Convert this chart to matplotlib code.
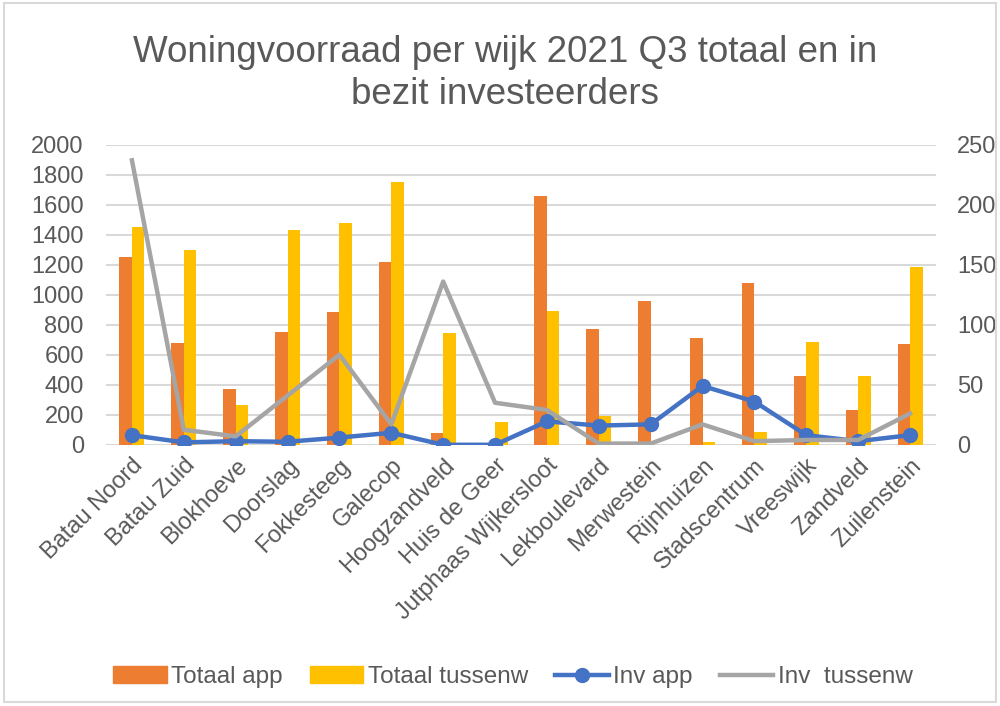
import numpy as np
import matplotlib
matplotlib.use('Agg')
import matplotlib.pyplot as plt
from matplotlib.lines import Line2D
from matplotlib.patches import Patch, Rectangle

wijken = ['Batau Noord', 'Batau Zuid', 'Blokhoeve', 'Doorslag', 'Fokkesteeg', 'Galecop',
          'Hoogzandveld', 'Huis de Geer', 'Jutphaas Wijkersloot', 'Lekboulevard',
          'Merwestein', 'Rijnhuizen', 'Stadscentrum', 'Vreeswijk', 'Zandveld', 'Zuilenstein']
totaal_app = [1250, 680, 370, 755, 885, 1220, 80, 0, 1660, 770, 960, 710, 1080, 460, 230, 670]
totaal_tussenw = [1450, 1295, 262, 1433, 1476, 1750, 745, 150, 895, 195, 0, 20, 82, 687, 456, 1187]
inv_app = [8, 2, 3, 2.5, 6, 10, 0, 0, 19.5, 16, 17, 49, 36, 8, 3, 8]
inv_tussenw = [237, 12.5, 7, 41, 75, 17, 136, 35, 29, 1, 1, 17, 3, 4, 4, 26]

grey = '#595959'
plt.rcParams['font.family'] = ['Liberation Sans', 'DejaVu Sans']

fig = plt.figure(figsize=(10, 7.06), dpi=100)
ax = fig.add_axes([0.106, 0.370, 0.830, 0.425])
ax2 = ax.twinx()

x = np.arange(len(wijken))
w = 0.24
ax.bar(x - w / 2, totaal_app, w, color='#ED7D31', zorder=2)
ax.bar(x + w / 2, totaal_tussenw, w, color='#FFC000', zorder=2)
ax.set_ylim(0, 2000)
ax.set_yticks(range(0, 2001, 200))
ax.set_xlim(-0.5, len(wijken) - 0.5)
ax.grid(axis='y', color='#D9D9D9', linewidth=1.5, zorder=0)
ax.set_axisbelow(True)

ax2.plot(x, inv_app, color='#4472C4', lw=3.2, marker='o', ms=10, zorder=3)
ax2.plot(x, inv_tussenw, color='#A5A5A5', lw=3.2, zorder=3)
ax2.set_ylim(0, 250)
ax2.set_yticks(range(0, 251, 50))

for a in (ax, ax2):
    for s in a.spines.values():
        s.set_visible(False)
    a.tick_params(length=0, labelsize=17, colors=grey)
ax.tick_params(axis='y', pad=16)
ax2.tick_params(axis='y', pad=15)

ax.set_xticks(x)
ax.set_xticklabels(wijken, rotation=45, ha='right', rotation_mode='anchor', fontsize=17, color=grey)
ax.tick_params(axis='x', pad=7)

fig.text(0.505, 0.896, 'Woningvoorraad per wijk 2021 Q3 totaal en in\nbezit investeerders',
         ha='center', va='center', fontsize=26.5, color=grey, linespacing=1.28)

handles = [Patch(color='#ED7D31'), Patch(color='#FFC000'),
           Line2D([], [], color='#4472C4', lw=3.2, marker='o', ms=10),
           Line2D([], [], color='#A5A5A5', lw=3.2)]
labels = ['Totaal app', 'Totaal tussenw', 'Inv app', 'Inv  tussenw']
fig.legend(handles, labels, loc='center', bbox_to_anchor=(0.513, 0.041), ncol=4, frameon=False,
           fontsize=17.5, labelcolor=grey, handlelength=2.2, handletextpad=0.2, columnspacing=1.1)

fig.patches.append(Rectangle((0.004, 0.006), 0.992, 0.99, transform=fig.transFigure,
                             fill=False, edgecolor='#D9D9D9', lw=1.5))

fig.savefig('out.png', dpi=100)
